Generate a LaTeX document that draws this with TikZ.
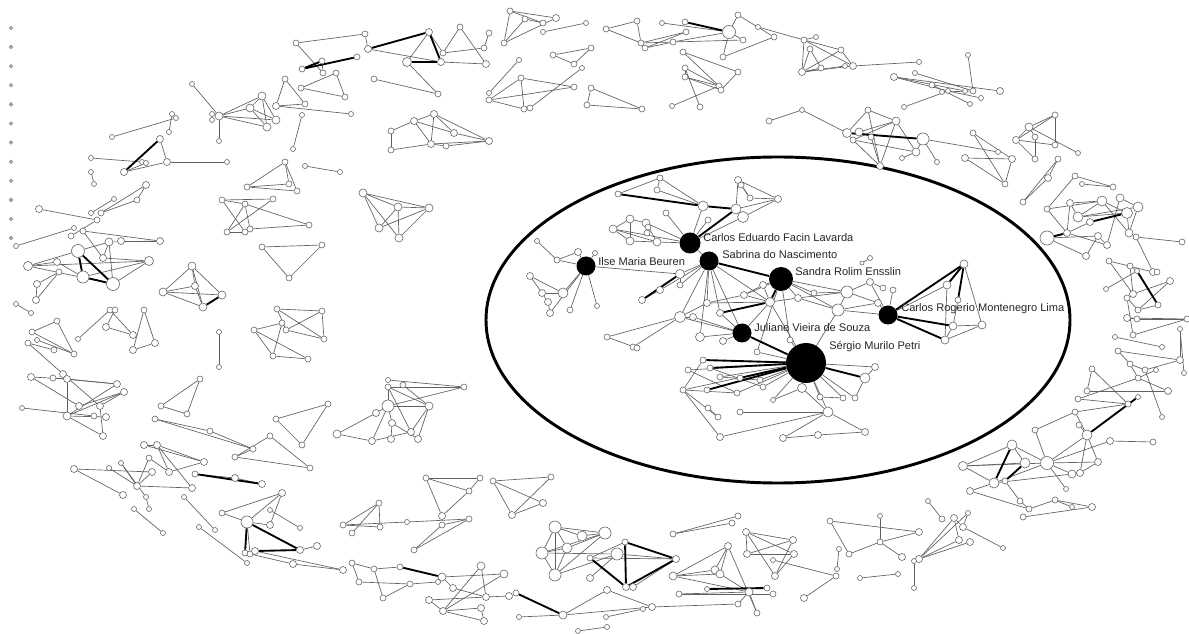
\documentclass[tikz,border=0pt]{standalone}
\usepackage{fontspec}
\setmainfont{Liberation Sans}
\usetikzlibrary{backgrounds}

\tikzset{
  vtx/.style={circle, draw=black!60, fill=white, line width=0.45pt, inner sep=0pt, minimum size=#1*0.75pt},
  vtx/.default=6,
  hub/.style={circle, fill=black, inner sep=0pt, minimum size=#1*0.75pt},
  lone/.style={circle, draw=black!50, fill=black!30, line width=0.3pt, inner sep=0pt, minimum size=2.8pt},
  link/.style={draw=black!62, line width=0.5pt},
  heavy/.style={draw=black, line width=1.4pt},
  cohort/.style={draw=black, line width=2.2pt},
  who/.style={font=\fontsize{8.3}{10}\selectfont, text=black!85, anchor=west, inner sep=0pt}
}

\begin{document}
\begin{tikzpicture}[x=0.75pt, y=-0.75pt]
      \useasboundingbox (0,0) rectangle (1189,634);

      % isolated authors
      \foreach \i in {1,...,12}
        \node[lone] (iso\i) at (11, {28+(\i-1)*19.1}) {};

      % outer ring, top
      \foreach \n/\x/\y/\d in {a1/296/43/6, a2/365/34/6, a3/302/69/6, a4/322/61/6, a5/357/57/6, a6/323/73/6, a7/368/49/7, a8/374/79/6,
          b1/429/32/7, b2/407/62/9, b3/441/62/7, b4/443/53/6, b5/460/27/6, b6/486/64/7, b7/489/33/6, b8/484/48/6, b9/438/94/6,
          c1/510/11/6, c2/556/18/7, c3/525/19/6, c4/543/23/6, c5/504/43/6, c6/543/32/5, c7/586/23/5,
          d1/553/55/6, d2/591/48/6, d3/574/64/6, e1/519/60/5, e2/489/93/5,
          f1/521/78/6, f2/489/100/6, f3/574/87/6, f4/582/68/5, f5/524/109/6, f6/530/108/6,
          g1/591/88/6, g2/587/105/6, g3/642/109/6,
          h1/606/29/6, h2/637/21/6, h3/641/43/6, h4/645/48/6, h5/662/23/5, h6/686/32/6, h7/673/42/6, h8/685/22/6,
          i1/729/32/13, i2/738/15/6, i3/723/57/6, i4/743/40/6, i5/758/27/5, i6/774/37/6,
          j1/683/52/6, j2/738/72/6, j3/685/68/6, j4/685/77/6, j5/719/86/6, j6/721/90/6, j7/700/107/6, j8/672/106/5,
          k1/769/121/6,
          l1/804/40/6, l2/816/37/5, l3/810/49/6, l4/841/50/6, l5/802/72/7, l6/821/68/6, l7/845/66/5, l8/853/66/7, l9/919/62/5,
          m1/802/110/5, m2/868/110/6, m3/896/121/8, m4/847/133/9, m5/859/132/8, m6/853/140/6, m7/871/137/6, m8/923/139/12,
          m9/916/152/8, m10/902/158/5, m11/880/166/7, m12/937/162/5,
          n1/894/77/7, n2/915/73/5, n3/932/85/6, n4/942/92/5, n5/948/91/5, n6/965/91/5, n7/973/91/6, n8/1000/91/7,
          n9/968/55/5, n10/981/98/5, n11/970/104/5, n12/904/107/5,
          o1/973/133/6, o2/965/158/7, o3/1012/159/7, o4/1005/184/6, o5/998/152/5,
          p1/1055/115/6, p2/1029/127/8, p3/1016/140/7, p4/1035/137/6, p5/1055/145/6, p6/1035/159/6, p7/1078/153/5,
          q1/1058/159/6, q2/1048/178/7, q3/1023/202/6}
        \node[vtx=\d] (\n) at (\x,\y) {};

      % outer ring, right
      \foreach \n/\x/\y/\d in {r1/1075/176/6, r2/1082/184/5, r3/1113/187/6, r4/1047/209/6, r5/1070/203/7, r6/1102/201/10,
          r7/1120/198/8, r8/1138/207/10, r9/1127/213/11, r10/1078/217/10, r11/1090/222/7, r12/1067/233/7, r13/1047/238/14,
          r14/1098/236/7, r15/1107/245/7, r16/1086/256/7, r17/1129/233/8, r18/1136/237/6, r19/1182/242/6,
          s1/1109/261/6, s2/1130/266/6, s3/1137/271/5, s4/1153/272/7, s5/1157/272/6, s6/1106/289/5, s7/1133/294/7,
          s8/1170/281/7, s9/1127/298/6, s10/1138/310/6, s11/1158/305/6, s12/1127/318/7, s13/1137/319/6, s14/1187/319/6,
          s15/1133/335/6, u1/1115/337/5, u2/1162/347/5,
          v1/1118/351/6, v2/1180/360/7, v3/1180/329/5, v4/1184/373/5, v5/1130/364/6, v6/1145/370/6, v7/1156/370/5,
          v8/1138/378/6, v9/1168/391/7, v10/1092/369/6, v11/1087/391/6, v12/1078/399/6, v13/1128/404/6, v14/1138/397/5,
          v15/1162/417/5, v16/1075/412/6,
          w1/1012/445/10, w2/963/466/9, w3/994/483/10, w4/1025/463/10, w5/1047/463/13, w6/1072/474/8, w7/970/491/7,
          w8/1035/430/6, w10/1087/435/10, w11/1080/473/7, w12/1098/462/7, w13/1110/441/7, w14/1153/442/6, w15/1066/489/5,
          w16/1005/481/6, w17/1020/501/6, w18/1029/509/6, w19/1055/500/6, w20/1092/507/7, w21/1023/517/6, w22/1072/507/5,
          w23/1079/425/6,
          x1/928/501/5, x2/942/519/6, x3/954/518/7, x4/968/513/5, x5/963/527/7, x6/959/540/7, x7/970/542/7, x8/919/559/7,
          x9/914/561/5, x10/914/588/5, x11/1003/548/5,
          y1/880/542/6, y2/919/532/7, y3/902/557/7, y4/898/574/5, y5/860/578/5,
          z1/830/521/6, z2/849/554/6, z3/880/516/5}
        \node[vtx=\d] (\n) at (\x,\y) {};

      % outer ring, bottom
      \foreach \n/\x/\y/\d in {ba1/746/532/7, ba2/793/540/7, ba3/747/554/7, ba4/794/554/7, ba5/775/576/7, ba6/773/560/5,
          ba7/804/598/7, ba8/836/576/6, ba9/839/549/5, ba10/837/569/5,
          bb1/673/534/6, bb2/738/516/6, bb3/732/523/6,
          bc1/728/546/7, bc2/673/576/8, bc3/715/570/8, bc4/720/574/8, bc5/749/592/8, bc6/767/588/6, bc7/707/589/5,
          bc8/679/594/6, bc9/757/613/6, bc10/773/594/6, bc12/738/604/6,
          bd1/555/527/12, bd2/582/536/10, bd3/605/533/12, bd4/542/553/12, bd5/567/548/10, bd6/617/554/12, bd7/625/542/6,
          bd8/555/575/12, bd9/590/578/7, bd10/676/559/7, bd11/626/587/7, bd12/633/587/7, bd13/590/558/6,
          be1/516/593/6, be2/563/615/8, be3/607/590/7, be4/652/607/7, be5/519/617/5, be6/606/617/5, be7/643/609/5,
          be8/578/631/5, be9/607/627/5,
          bf1/400/567/6, bf2/442/577/8, bf3/481/566/8, bf4/504/574/8, bf5/453/588/7, bf6/429/600/7, bf7/486/597/7,
          bf8/443/611/7, bf9/481/608/7, bf10/484/621/7, bf11/509/596/7, bf12/438/582/5, bf13/410/584/6,
          bg1/426/478/6, bg2/480/478/6, bg3/469/491/6, bg4/442/516/7,
          bh1/493/481/6, bh2/551/477/6, bh3/543/503/7, bh4/512/515/7,
          bi1/407/522/5, bi2/442/525/6, bi3/469/519/6, bi4/414/550/6,
          bj1/343/525/6, bj2/379/503/6, bj3/352/533/6, bj4/380/527/6,
          bk1/352/563/6, bk2/374/569/6, bk3/359/582/6, bk4/383/598/6,
          bl1/282/493/7, bl2/222/513/6, bl3/270/510/5, bl4/247/522/12, bl5/300/528/5, bl6/270/525/7, bl7/245/553/6,
          bl8/250/554/6, bl9/255/551/7, bl10/300/550/7, bl11/317/546/7, bl12/293/564/7, bl13/343/570/7,
          bm1/195/474/6, bm2/235/478/7, bm3/262/484/7,
          bn1/134/509/5, bn2/163/533/5, bo1/184/497/5, bo2/215/530/5, bp1/199/527/5, bp2/247/563/5,
          bq1/144/445/7, bq2/157/445/7, bq3/204/462/7, bq4/169/472/7, bq5/192/488/7, bq6/149/458/6,
          br1/74/469/7, br2/109/468/5, br3/121/463/5, br4/152/472/7, br5/137/486/7, br6/123/495/7, br7/146/497/5,
          br8/149/509/5}
        \node[vtx=\d] (\n) at (\x,\y) {};

      % outer ring, left
      \foreach \n/\x/\y/\d in {lb1/285/79/6, lb2/301/88/6, lb3/336/73/6, lb4/345/97/6, lb5/305/104/6, lb6/276/106/7, lb7/351/114/5,
          lc1/192/84/5, lc2/219/116/8, lc3/212/114/5, lc4/212/120/5, lc5/250/108/8, lc6/262/96/8, lc7/267/127/8,
          lc8/276/120/8, lc9/219/141/5,
          ld1/302/115/5, ld2/293/149/5, le1/305/166/5, le2/340/172/5,
          lf1/391/131/6, lf2/391/150/6, lf3/414/121/7, lf4/434/114/7, lf5/454/133/7, lf6/431/144/7, lf7/446/146/6, lf8/489/141/7,
          lg1/112/137/5, lg2/172/114/5, lg3/176/118/5, lg4/169/132/5,
          lh1/91/158/5, lh2/124/172/7, lh3/160/139/7, lh4/167/162/7, lh5/227/162/5, lh6/142/162/5, lh7/146/163/5,
          li1/91/172/5, li2/94/184/5,
          lj1/146/185/7, lj2/137/200/6, lj3/114/199/5, lj4/101/213/6, lj5/91/213/5, lj6/97/220/6, lj7/39/209/7,
          lj8/74/228/5, lj9/71/236/6, lj10/16/246/5,
          lk1/83/231/6, lk2/109/242/8, lk3/121/241/7, lk4/160/241/7, lk5/78/251/13, lk6/103/258/7, lk7/149/261/9,
          lk8/28/266/9, lk9/57/262/7, lk10/59/272/6, lk11/83/277/12, lk12/113/284/13, lk13/37/284/7, lk14/36/300/7,
          ll1/192/266/8, ll2/163/292/8, ll3/195/286/7, ll4/222/295/8, ll5/203/307/8,
          lm1/222/200/6, lm2/273/199/6, lm3/245/204/6, lm4/227/232/6, lm5/245/232/6, lm6/250/229/6, lm7/309/225/6,
          ln1/285/162/6, ln2/247/187/6, ln3/289/184/6, ln4/297/191/6,
          lo1/262/247/6, lo2/322/245/6, lo3/289/278/6,
          lp1/363/193/8, lp2/398/207/8, lp3/429/208/8, lp4/379/228/8, lp5/399/238/8,
          lq1/277/309/6, lq2/322/311/6, lq3/282/323/6, lq4/286/330/6, lq5/254/330/6, lq6/324/339/6, lq7/273/356/6, lq8/308/359/6,
          lr1/388/380/5, lr2/388/387/6, lr3/403/385/6, lr4/464/387/6, lr5/388/406/12, lr6/429/406/8, lr7/376/413/7,
          lr8/392/423/7, lr9/337/434/8, lr10/372/441/7, lr11/391/439/7, lr12/411/432/7, lr13/418/439/7,
          la1/276/419/6, la2/328/404/6, la3/302/445/6,
          ly1/155/419/6, ly2/210/431/6, ly3/253/449/6,
          lz1/235/457/6, lz2/270/436/6, lz3/310/468/6,
          lx1/200/379/6, lx2/161/406/6, lx3/187/414/6,
          lw1/219/332/5, lw2/219/367/5,
          lt1/57/321/6, lt2/32/332/6, lt3/28/343/6, lt4/74/354/6, lt5/54/350/6, lt6/37/340/5,
          lu1/110/310/6, lu2/115/310/6, lu3/78/339/5, lu4/106/327/7, lu5/133/335/7, lu6/144/310/6, lu7/133/350/7, lu8/155/343/7,
          lv1/31/377/7, lv2/53/378/6, lv3/63/374/7, lv4/67/379/7, lv5/117/384/7, lv6/124/392/7, lv7/79/406/7, lv8/100/406/7,
          lv9/22/408/5, lv10/67/416/8, lv11/94/416/6, lv12/106/417/7, lv13/103/436/7,
          ls1/16/304/5, ls2/31/313/5}
        \node[vtx=\d] (\n) at (\x,\y) {};

      % inside the ellipse
      \foreach \n/\x/\y/\d in {cu1/660/178/6, cu2/618/194/6, cu3/657/190/6, cu4/703/206/10, cu5/738/180/7, cu6/741/185/6,
          cu7/750/198/6, cu8/778/199/7, cu9/736/209/10, cu10/743/217/11, cu11/708/220/6, cu12/666/213/6,
          cl1/613/229/8, cl2/630/219/8, cl3/646/223/8, cl4/648/227/6, cl5/630/241/8, cl6/657/242/8, cl7/647/233/6,
          ci1/537/241/5, ci2/557/260/6, ci3/578/252/7, ci4/530/276/7, ci5/542/293/7, ci6/548/302/7, ci7/550/313/7,
          ci8/563/293/10, ci9/570/310/6, ci10/597/306/5, ci11/595/253/5,
          cm1/680/274/9, cm2/660/290/7, cm3/642/300/7, cm4/680/285/6, cm5/680/317/11, cm6/693/317/7, cm7/700/337/9,
          cm8/707/303/7, cm9/720/313/7, cm10/744/295/7, cm11/763/285/7, cm12/770/302/9, cm13/798/298/7, cm14/814/293/6,
          cm15/847/292/12, cm16/838/310/12, cm17/870/282/7, cm18/878/303/7, cm19/723/341/7, cm20/790/340/6, cm21/757/352/6,
          cm22/607/337/6, cm23/633/347/6, cm24/637/348/6, cm26/870/258/5, cm27/862/263/4,
          cr1/964/264/8, cr2/947/285/8, cr3/958/300/6, cr4/953/326/8, cr5/982/325/8, cr6/945/340/8, cr7/893/290/6, cr8/883/288/6,
          cs1/703/360/6, cs2/688/370/6, cs3/710/368/6, cs4/720/377/6, cs5/740/378/6, cs6/760/380/6, cs7/683/390/6,
          cs8/707/390/6, cs9/737/393/6, cs10/763/387/6, cs11/802/388/9, cs12/820/397/6, cs13/843/398/6, cs14/855/398/6,
          cs15/865/378/10, cs16/875/367/7, cs17/773/400/5, cs18/828/412/10, cs19/783/438/7, cs20/818/435/7, cs21/865/432/7,
          cs22/720/437/7, cs23/740/412/6, cs24/718/417/6, cs25/708/408/6}
        \node[vtx=\d] (\n) at (\x,\y) {};

      % the seven central authors
      \node[hub=21] (carlosE) at (690,243) {};
      \node[hub=19] (ilse) at (586,266) {};
      \node[hub=19] (sabrina) at (709,261) {};
      \node[hub=24] (sandra) at (781,279) {};
      \node[hub=19] (juliane) at (742,333) {};
      \node[hub=40] (sergio) at (806,363) {};
      \node[hub=19] (carlosR) at (888,315) {};

      \node[who] (lblCE) at (703,238) {Carlos Eduardo Facin Lavarda};
      \node[who] (lblIlse) at (598,262) {Ilse Maria Beuren};
      \node[who] (lblSab) at (722,255) {Sabrina do Nascimento};
      \node[who] (lblSan) at (795,272) {Sandra Rolim Ensslin};
      \node[who] (lblJul) at (754,328) {Juliane Vieira de Souza};
      \node[who] (lblSer) at (829,347) {Sérgio Murilo Petri};
      \node[who] (lblCR) at (901,309) {Carlos Rogerio Montenegro Lima};

      \begin{pgfonlayer}{background}
      \draw[cohort] (778,320) ellipse [x radius=292, y radius=163];

      % ring edges
      \foreach \a/\b in {a1/a2, a1/a6, a4/a6, a7/a2, a7/b3, a8/b9, b1/b2, b1/b4, b4/b5, b5/b6, b3/b6, b4/b8, b8/b7, b2/b9,
          c1/c2, c1/c5, c1/c4, c5/c2, c5/c3, c3/c4, c6/c7, d1/d2, d2/d3, d1/d3, e1/e2,
          f2/f1, f2/f3, f2/f5, f1/f3, f1/f5, f6/f4, g1/g2, g1/g3, g2/g3,
          h1/h2, h1/h3, h2/h3, h3/h6, h4/h6, h3/h7, h5/i1, h4/h7, h7/i4, i1/i2, i1/i3, i1/i4, i1/h7, i2/i6, i3/i6, i5/l1,
          j1/j2, j3/j5, j4/j5, j3/j7, j2/j6, j1/j5, j8/j5, j4/j6, j3/j4, k1/m1,
          l1/l2, l1/l5, l1/l4, l1/l8, l3/l6, l3/l5, l4/l5, l4/l8, l5/l7, l8/l9, l5/l6, l5/l8,
          n1/n6, n2/n7, n3/n11, n9/n7, n12/n5, n5/n10, n1/n5, n4/n7, n1/n8,
          m1/m4, m2/m4, m2/m11, m2/m3, m3/m6, m3/m9, m3/m11, m5/m7, m6/m9, m6/m11, m8/m9, m8/m12, m7/m11, m4/m6,
          m5/m3, m8/o5, m9/m10, o1/o3, o1/o4, o2/o3, o2/o4, o3/o4,
          p1/p2, p1/p3, p1/p5, p2/p3, p2/p7, p3/p5, p4/p6, p3/p6, p2/p4, q1/q2, q2/q3, q1/q3,
          r1/r3, r1/r4, r2/r3, r4/r6, r5/r12, r5/r10, r6/r9, r7/r8, r10/r9, r12/r11, r13/r14, r13/r16, r12/r15, r14/r15,
          r17/r8, r17/r6, r18/r19, r9/r17, r16/r14, r15/r7, r10/r6, r5/r6, r4/r12, r10/r8,
          s1/s4, s1/s7, s2/s3, r18/s4, s6/s3, s7/s8, s9/s10, s10/s8, s12/s14, s13/s14, s15/s14, s9/s15, s2/s7, s4/s5,
          s10/s11, s7/s9, s12/s13, u1/u2,
          v1/v2, v1/v5, v3/v2, v2/v6, v5/v8, v6/v15, v10/v11, v10/v13, v11/v9, v12/v13, v12/v8, v8/v9, v13/v14, v3/v4,
          v7/v8, v5/v6, v16/w8, v16/v13, v16/w10,
          w1/w2, w1/w4, w1/w5, w2/w4, w2/w3, w2/w5, w3/w5, w3/w6, w3/w7, w7/w18, w5/w6, w5/w8, w5/w13, w5/w12, w5/w15,
          w10/w12, w12/w11, w13/w14, w17/w18, w18/w19, w19/w20, w21/w20, w22/w19, w16/w17, w23/w10, w10/w11, w5/w10,
          x1/x2, x3/x8, x3/x5, x3/x6, x5/x11, x8/x6, x8/x7, x9/x10, x4/x5, x8/x4,
          y1/y2, y1/y3, y5/y4, z1/z2, z2/y1, z3/y1, z1/y2}
        \draw[link] (\a) -- (\b);
      \foreach \a/\b in {ba1/ba2, ba1/ba3, ba1/ba5, ba1/ba4, ba2/ba3, ba2/ba5, ba3/ba4, ba4/ba5, ba6/ba8, ba7/ba8, ba9/ba10,
          bb1/bb2, bb1/bb3,
          bc1/bc2, bc1/bc3, bc1/bc4, bc1/bc9, bc2/bc3, bc2/bc4, bc2/bc5, bc4/bc5, bc8/bc10, bc5/bc9, bc3/bc4, bc8/bc5, bc12/bc5,
          bd1/bd8, bd1/bd2, bd1/bd5, bd1/bd3, bd4/bd1, bd4/bd8, bd4/bd3, bd4/bd6, bd5/bd3, bd5/bd8, bd2/bd3, bd8/bd3,
          bd8/bd6, bd13/bd7, bd13/bd10, bd6/bd10, bd4/bd5, bd9/bd6, bd12/bd10,
          be2/be3, be3/be4, be5/be2, be2/be4, be6/be7, be4/bc12, be8/be9,
          bf2/bf4, bf2/bf5, bf3/bf8, bf3/bf7, bf5/bf7, bf6/bf7, bf6/bf8, bf8/bf4, bf8/bf9, bf9/bf10, bf12/bf13, bf7/bf11, bf8/bf10,
          bg1/bg2, bg1/bg3, bg1/bg4, bg3/bg4, bg2/bg3, bh1/bh2, bh1/bh3, bh1/bh4, bh2/bh4, bh3/bh4,
          bi1/bi3, bi2/bi3, bi4/bi3, bi4/bi2, bj1/bj2, bj1/bj4, bj3/bj2, bj2/bj4, bj1/bi1,
          bk1/bk2, bk1/bk3, bk3/bf13, bk2/bk4, bk2/bf1, bk4/bf13,
          bl1/bl2, bl1/bl4, bl1/bl6, bl2/bl4, bl3/bl5, bl4/bl8, bl9/bl13, bl10/bl11, bl12/bl13, bl4/bl6, bl8/bl12,
          bm1/bm2, bm2/bm3, bn1/bn2, bo1/bo2, bp1/bp2,
          bq1/bq3, bq2/bq3, bq2/bq4, bq4/bq3, bq2/bq5, bq1/bq2, bq6/bq4,
          br1/br4, br1/br6, br2/br5, br3/br7, br5/br4, br5/bq6, br5/bq5, br7/br8, br3/br5}
        \draw[link] (\a) -- (\b);
      \foreach \a/\b in {lb1/lb5, lb2/lb3, lb3/lb4, lb2/lb4, lb6/lb5, lb6/lb1, lb6/lb7,
          lc1/lc2, lc2/lc6, lc2/lc5, lc2/lc7, lc2/lc8, lc6/lc8, lc5/lc8, lc6/lc7, lc5/lc6, lc2/lc9, lc5/lc7,
          ld1/ld2, le1/le2,
          lf1/lf2, lf1/lf3, lf3/lf4, lf3/lf5, lf4/lf6, lf4/lf8, lf5/lf8, lf6/lf8, lf2/lf6, lf3/lf6, lf7/lf8, lf6/lf7, lf5/lf4,
          lg1/lg3, lg2/lg4, lg2/lg3, lh1/lh6, lh3/lh4, lh2/lh4, lh4/lh5, lh2/lh7, li1/li2,
          lj1/lj4, lj1/lj2, lj3/lj5, lj7/lj6, lj6/lj9, lj10/lj8, lj4/lj2,
          lk1/lk4, lk1/lk6, lk2/lk4, lk2/lk6, lk2/lk12, lk5/lk2, lk5/lk8, lk8/lk7, lk8/lk12, lk9/lk11, lk6/lk7, lk12/lk7,
          lk13/lk10, lk14/lk10, lk14/lk13, lk11/lk7, lk3/lk4, lk8/lk9,
          ll1/ll2, ll1/ll3, ll1/ll4, ll2/ll4, ll2/ll5, ll3/ll5, ll2/ll3, ll1/ll5,
          lm1/lm2, lm1/lm5, lm3/lm4, lm3/lm6, lm3/lm7, lm2/lm4, lm6/lm7, lm4/lm5, lm1/lm3,
          ln1/ln2, ln1/ln3, ln1/ln4, ln2/ln4, ln2/ln3, lo1/lo2, lo2/lo3, lo1/lo3,
          lp1/lp2, lp1/lp3, lp1/lp4, lp1/lp5, lp2/lp3, lp2/lp5, lp3/lp4, lp3/lp5, lp4/lp2,
          lq1/lq2, lq1/lq6, lq2/lq6, lq2/lq4, lq5/lq3, lq5/lq8, lq5/lq7, lq3/lq7, lq7/lq8, lq4/lq6, lq1/lq4,
          lr1/lr4, lr2/lr4, lr2/lr5, lr2/lr6, lr2/lr12, lr3/lr6, lr5/lr4, lr5/lr6, lr7/lr9, lr9/lr10, lr10/lr12,
          lr8/lr13, lr6/lr13, lr5/lr8, lr5/lr10, lr8/lr11, lr6/lr12, lr7/lr5,
          la1/la2, la2/la3, la1/la3, ly1/ly2, ly2/ly3, ly1/ly3, lz1/lz2, lz2/lz3, lz1/lz3, lz1/ly3,
          lx1/lx2, lx2/lx3, lx1/lx3, lw1/lw2,
          lt1/lt2, lt1/lt4, lt2/lt4, lt3/lt5, lt6/lt4, lt3/lv3,
          lu1/lu3, lu1/lu5, lu2/lu4, lu4/lu5, lu6/lu7, lu6/lu8, lu7/lu8,
          lv1/lv7, lv1/lv4, lv2/lv5, lv4/lv5, lv4/lv10, lv3/lv8, lv7/lv6, lv10/lv6, lv10/lv5, lv9/lv11, lv10/lv12,
          lv8/lv13, lv10/lv13, lv8/lv6, ls1/ls2}
        \draw[link] (\a) -- (\b);

      % edges inside the ellipse
      \foreach \a/\b in {cu1/cu4, cu1/cu2, cu3/cu4, cu5/cu9, cu5/cu8, cu6/cu7, cu7/cu8, cu9/cu8, cu9/cu10, cu10/cu8,
          cu4/carlosE, cu12/carlosE, cu11/carlosE, cu10/carlosE, cu5/cu7, cu1/cu3,
          cl1/carlosE, cl2/cl3, cl1/cl6, cl5/cl6, cl2/cl5, cl3/cl6, cl1/cl5, cl1/cl2, cl3/carlosE, cl6/carlosE, cl4/cl7,
          ilse/ci2, ilse/ci3, ilse/ci11, ilse/ci8, ilse/ci9, ilse/ci10, ilse/ci7, ci1/ci2, ci2/ci3, ci4/ci5, ci4/ci8,
          ci5/ci6, ci6/ci7, ci5/ci8, ilse/cm1,
          cm2/sabrina, sabrina/cm5, sabrina/cm7, sabrina/cm8, sabrina/cm9, sabrina/juliane, sabrina/carlosE,
          sabrina/cm12, sabrina/cm1, cm5/cm6, cm5/cm22, cm5/cm23, cm22/cm24, cm5/cm8, cm8/cm12, cm6/juliane,
          cm9/juliane, cm5/juliane, cm7/juliane, juliane/cm12, juliane/cm19, sandra/cm10, sandra/cm11, sandra/cm13,
          sandra/cm14, sandra/cm15, sandra/cm20, sandra/cm16, sandra/cm21, cm12/cm13, cm13/cm15, cm14/cm15,
          cm15/cm17, cm15/cm18, cm16/cm18, cm16/carlosR, cm18/carlosR, cm17/carlosR, cm15/cm16, cm11/cm12,
          cm10/cm12, cm10/cm11, cm26/cm27, cm16/cm13, cm8/cm10, cm4/cm1, cm2/cm3, cm4/sabrina,
          carlosR/cr2, cr2/cr6, cr4/cr5, cr5/cr1, cr6/cr5, cr4/cr6, cr4/cr3, carlosR/cr7, cr8/cm17,
          sergio/cs2, sergio/cs4, sergio/cs6, sergio/cs7, sergio/cs9, sergio/cs10, sergio/cs12, sergio/cs13,
          sergio/cs14, sergio/cs16, sergio/cs17, sergio/cs18, sergio/cm16, sergio/cm12, sergio/cm21, sergio/cm20,
          cs1/cs7, cs2/cs9, cs7/cs9, cs3/cs10, cs4/cs6, cs18/cs19, cs18/cs21, cs19/cs20, cs20/cs21, cs22/cs18,
          cs7/cs22, cs7/cs24, cs25/cs24, cs17/cs11, cs11/cs18, cs15/cs14, cs15/cs16, cs12/cs13, cs23/cs18}
        \draw[link] (\a) -- (\b);

      % strong ties
      \foreach \a/\b in {a3/a5, a3/a4, a7/b1, b2/b3, b1/b3, h8/i1, m4/m8, r11/r9, r13/r12, s3/s11,
          w1/w3, w16/w4, w10/v14, bc7/bc6, bd7/bd10, bd7/bd11, bd10/bd11, bd13/bd11, be1/be2, bf1/bf2,
          bl4/bl7, bl4/bl10, bl9/bl10, bm1/bm3, lh2/lh3, lk5/lk11, lk11/lk12, lk5/lk12, ll5/ll4,
          cu2/cu4, cu4/cu9, cu9/carlosE, cm3/cm1, sabrina/sandra, cm12/sandra, cm9/cm12, juliane/sergio,
          carlosR/cr1, carlosR/cr4, carlosR/cr6, cr2/cr1, cr3/cr1,
          sergio/cs1, sergio/cs3, sergio/cs5, sergio/cs8, sergio/cs11, sergio/cs15}
        \draw[heavy] (\a) -- (\b);
      \end{pgfonlayer}
\end{tikzpicture}
\end{document}
